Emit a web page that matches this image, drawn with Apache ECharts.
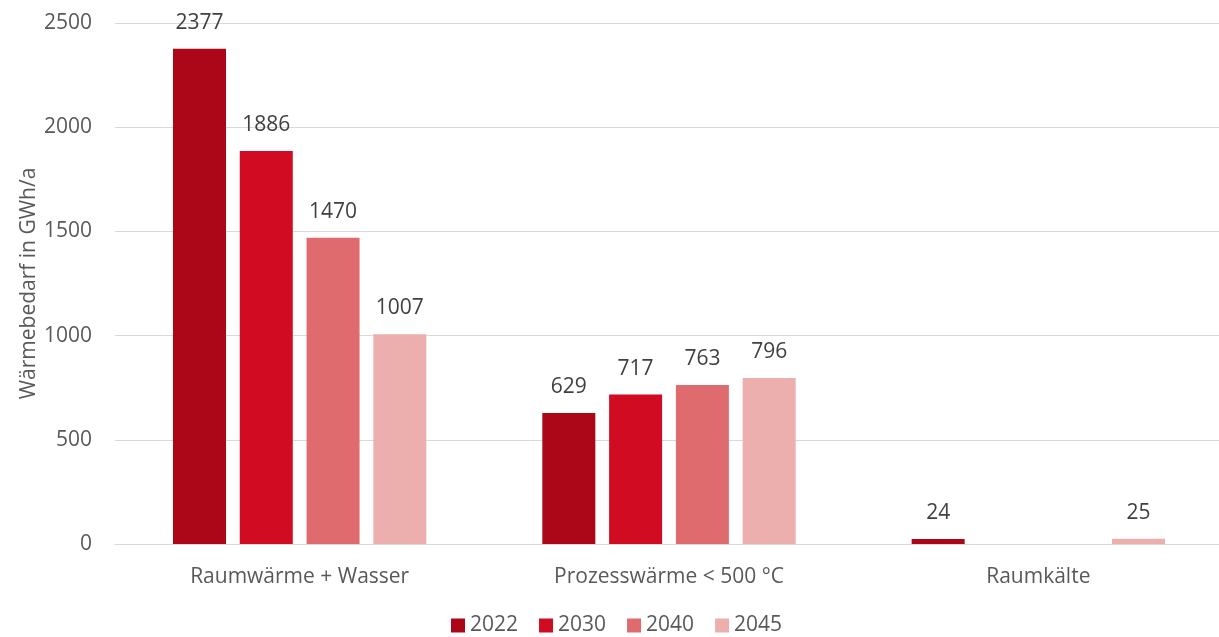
<!DOCTYPE html>
<html><head><meta charset="utf-8">
<script src="https://cdn.jsdelivr.net/npm/echarts@6/dist/echarts.min.js"></script>
<style>html,body{margin:0;padding:0;background:#fff;overflow:hidden}#c{width:1223px;height:637px}</style>
</head><body><div id="c"></div>
<script>
const categories = ['Raumwärme + Wasser', 'Prozesswärme < 500 °C', 'Raumkälte'];
const seriesNames = ['2022', '2030', '2040', '2045'];
const v2022 = [2377, 629, 24];
const v2030 = [1886, 717, null];
const v2040 = [1470, 763, null];
const v2045 = [1007, 796, 25];
const colors = ['#AC0719', '#D00B22', '#E06B6E', '#EDAEAE'];
const yTicks = { min: 0, max: 2500, interval: 500 };

const values = [v2022, v2030, v2040, v2045];
const font = 'Open Sans';
const fs = 21;
const chart = echarts.init(document.getElementById('c'));
chart.setOption({
  animation: false,
  textStyle: { fontFamily: font },
  grid: { left: 115, right: 0, top: 23, bottom: 93, containLabel: false },
  legend: {
    bottom: -4, left: 446, itemWidth: 14, itemHeight: 14, itemGap: 21,
    icon: 'rect',
    textStyle: { fontFamily: font, fontSize: fs, color: '#595959', padding: [0, 0, 0, 0] },
    data: seriesNames
  },
  xAxis: {
    type: 'category', data: categories,
    axisLine: { lineStyle: { color: '#D9D9D9', width: 1 } },
    axisTick: { show: false },
    axisLabel: { fontFamily: font, fontSize: fs, color: '#595959', margin: 23 }
  },
  yAxis: {
    type: 'value', min: yTicks.min, max: yTicks.max, interval: yTicks.interval,
    name: 'Wärmebedarf in GWh/a', nameLocation: 'middle', nameGap: 75,
    nameMoveOverlap: false,
    nameTextStyle: { fontFamily: font, fontSize: fs, color: '#595959' },
    axisLine: { show: false }, axisTick: { show: false },
    splitLine: { lineStyle: { color: '#D9D9D9', width: 1 } },
    axisLabel: { fontFamily: font, fontSize: fs, color: '#595959', margin: 23, formatter: v => String(v) }
  },
  series: seriesNames.map((n, i) => ({
    name: n, type: 'bar', data: values[i],
    barWidth: 53, barGap: '26%',
    itemStyle: { color: colors[i] },
    label: { show: true, position: 'top', distance: 16, lineHeight: 20, fontFamily: font, fontSize: fs, color: '#404040' }
  }))
});
</script></body></html>
